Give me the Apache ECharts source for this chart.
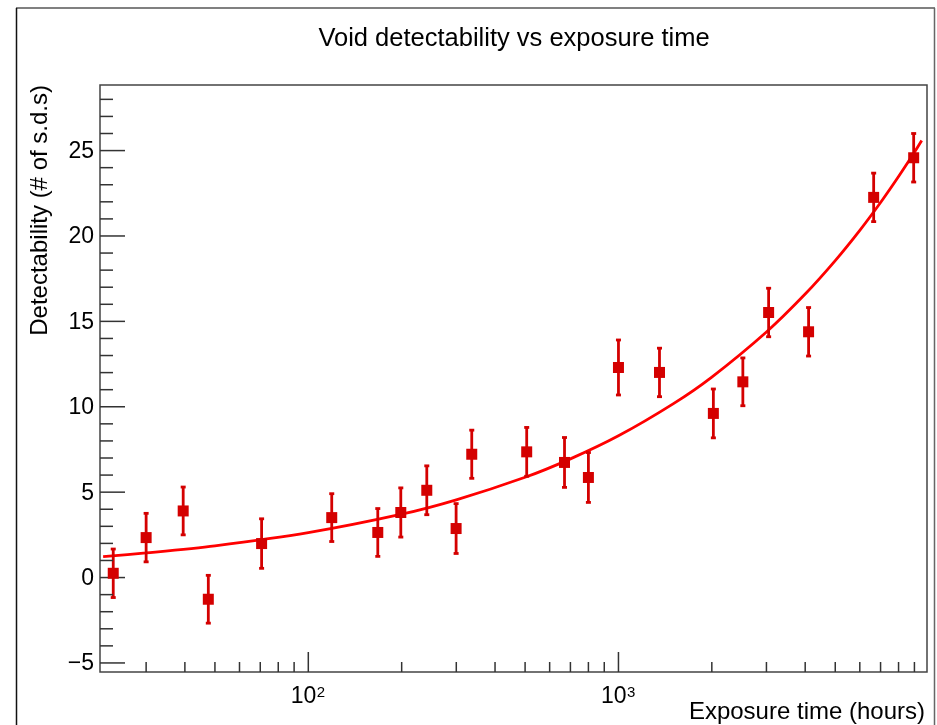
<!DOCTYPE html>
<html><head><meta charset="utf-8">
<script src="https://cdn.jsdelivr.net/npm/echarts@6/dist/echarts.min.js"></script>
<style>html,body{margin:0;padding:0;background:#fff}#c{width:937px;height:725px}</style>
</head><body><div id="c"></div>
<script>
// ---- data ----
const exposureHours = [23.5, 30, 39.5, 47.6, 70.7, 119, 167.5, 198.7, 241, 299.6, 336.5, 506, 670, 800, 1000, 1356, 2023, 2518, 3049, 4102, 6650, 8950];
const detectability = [0.25, 2.34, 3.90, -1.27, 1.99, 3.51, 2.64, 3.81, 5.11, 2.87, 7.22, 7.36, 6.74, 5.86, 12.30, 12.01, 9.61, 11.46, 15.52, 14.39, 22.26, 24.58];
const detectErr = [1.42, 1.42, 1.40, 1.40, 1.45, 1.40, 1.40, 1.44, 1.43, 1.46, 1.41, 1.43, 1.46, 1.46, 1.61, 1.42, 1.43, 1.40, 1.42, 1.42, 1.42, 1.42];
const fitHours = [21.8, 30, 50, 100, 200, 300, 500, 700, 1000, 1500, 2000, 3000, 4000, 5000, 6000, 7000, 8000, 9000, 9500];
const fitValues = [1.22, 1.44, 1.86, 2.63, 3.71, 4.55, 5.87, 6.95, 8.30, 10.17, 11.74, 14.38, 16.60, 18.56, 20.33, 21.96, 23.48, 24.90, 25.59];
const xMajorTicks = [100, 1000];
const xMajorBase = ['10', '10'];
const xMajorExp = ['2', '3'];
const xMinorTicks = [30, 40, 50, 60, 70, 80, 90, 200, 300, 400, 500, 600, 700, 800, 900, 2000, 3000, 4000, 5000, 6000, 7000, 8000, 9000];
const yMajorTicks = [-5, 0, 5, 10, 15, 20, 25];
const yMajorLabels = ['\u22125', '0', '5', '10', '15', '20', '25'];
const yMinorTicks = [-4, -3, -2, -1, 1, 2, 3, 4, 6, 7, 8, 9, 11, 12, 13, 14, 16, 17, 18, 19, 21, 22, 23, 24, 26, 27, 28];
const xRange = [21.3, 9881];
const yRange = [-5.53, 28.84];

const FONT = '"Liberation Sans", Arial, Helvetica, sans-serif';
const markColor = '#d40000';
const tickColor = '#333';

const chart = echarts.init(document.getElementById('c'), null, {renderer: 'canvas'});

const errData = exposureHours.map((x, i) => [x, detectability[i] - detectErr[i], detectability[i] + detectErr[i]]);
const ptData = exposureHours.map((x, i) => [x, detectability[i]]);
const fitData = fitHours.map((x, i) => [x, fitValues[i]]);
const xTickData = xMajorTicks.map((v, i) => [v, 0, 1, i]).concat(xMinorTicks.map(v => [v, 0, 0, -1]));
const yTickData = yMajorTicks.map((v, i) => [100, v, 1, i]).concat(yMinorTicks.map(v => [100, v, 0, -1]));

chart.setOption({
  animation: false,
  backgroundColor: '#fff',
  grid: {left: 100, right: 10, top: 85, bottom: 53, show: true, borderColor: '#444', borderWidth: 1.5, backgroundColor: 'transparent'},
  xAxis: {type: 'log', logBase: 10, min: xRange[0], max: xRange[1],
    axisLine: {show: false}, axisTick: {show: false}, axisLabel: {show: false}, splitLine: {show: false}, minorTick: {show: false}},
  yAxis: {type: 'value', min: yRange[0], max: yRange[1],
    axisLine: {show: false}, axisTick: {show: false}, axisLabel: {show: false}, splitLine: {show: false}},
  graphic: [
    {type: 'line', shape: {x1: 16, y1: 8, x2: 935, y2: 8}, style: {stroke: '#808080', lineWidth: 2}},
    {type: 'line', shape: {x1: 16.5, y1: 8, x2: 16.5, y2: 725}, style: {stroke: '#111', lineWidth: 1.5}},
    {type: 'line', shape: {x1: 934.5, y1: 8, x2: 934.5, y2: 725}, style: {stroke: '#666', lineWidth: 1.5}},
    {type: 'text', x: 514, y: 39, style: {text: 'Void detectability vs exposure time', font: '25.5px ' + FONT, fill: '#000', align: 'center', verticalAlign: 'middle'}},
    {type: 'text', x: 925, y: 712, style: {text: 'Exposure time (hours)', font: '24px ' + FONT, fill: '#000', align: 'right', verticalAlign: 'middle'}},
    {type: 'text', x: 40, y: 85, rotation: Math.PI / 2, style: {text: 'Detectability (# of s.d.s)', font: '24px ' + FONT, fill: '#000', align: 'right', verticalAlign: 'middle'}}
  ],
  series: [
    {
      type: 'custom', name: 'xticks', silent: true, z: 5, data: xTickData, encode: {x: 0, y: 1},
      renderItem: (params, api) => {
        const p = api.coord([api.value(0), api.value(1)]);
        const cs = params.coordSys;
        const yb = cs.y + cs.height;
        const major = api.value(2) === 1;
        const len = major ? 20 : 10;
        const children = [{type: 'line', shape: {x1: p[0], y1: yb, x2: p[0], y2: yb - len}, style: {stroke: tickColor, lineWidth: 1.5}}];
        if (major) {
          const k = api.value(3);
          children.push({type: 'text', x: p[0] + 8, y: yb + 25, style: {
            text: xMajorBase[k], font: '23px ' + FONT, fill: '#000', align: 'right', verticalAlign: 'middle'}});
          children.push({type: 'text', x: p[0] + 8.5, y: yb + 21, style: {
            text: xMajorExp[k], font: '15px ' + FONT, fill: '#000', align: 'left', verticalAlign: 'middle'}});
        }
        return {type: 'group', children};
      }
    },
    {
      type: 'custom', name: 'yticks', silent: true, z: 5, data: yTickData, encode: {x: 0, y: 1},
      renderItem: (params, api) => {
        const p = api.coord([api.value(0), api.value(1)]);
        const cs = params.coordSys;
        const xl = cs.x;
        const major = api.value(2) === 1;
        const len = major ? 25 : 13;
        const children = [{type: 'line', shape: {x1: xl, y1: p[1], x2: xl + len, y2: p[1]}, style: {stroke: tickColor, lineWidth: 1.5}}];
        if (major) {
          children.push({type: 'text', x: xl - 6, y: p[1] + 1, style: {
            text: yMajorLabels[api.value(3)], font: '23px ' + FONT, fill: '#000', align: 'right', verticalAlign: 'middle'}});
        }
        return {type: 'group', children};
      }
    },
    {
      type: 'line', name: 'fit', data: fitData, smooth: 0.3, showSymbol: false, z: 3,
      lineStyle: {color: '#ff0000', width: 2.8}, itemStyle: {color: '#ff0000'}
    },
    {
      type: 'custom', name: 'errors', z: 4, data: errData, encode: {x: 0, y: [1, 2]},
      renderItem: (params, api) => {
        const x = api.value(0);
        const lo = api.coord([x, api.value(1)]);
        const hi = api.coord([x, api.value(2)]);
        const cw = 2.5;
        const style = {stroke: markColor, lineWidth: 2.8};
        return {type: 'group', children: [
          {type: 'line', shape: {x1: lo[0], y1: lo[1], x2: hi[0], y2: hi[1]}, style},
          {type: 'line', shape: {x1: lo[0] - cw, y1: lo[1], x2: lo[0] + cw, y2: lo[1]}, style},
          {type: 'line', shape: {x1: hi[0] - cw, y1: hi[1], x2: hi[0] + cw, y2: hi[1]}, style}
        ]};
      }
    },
    {
      type: 'scatter', name: 'points', data: ptData, symbol: 'rect', symbolSize: 11, z: 6,
      itemStyle: {color: markColor, opacity: 1}
    }
  ]
});
</script>
</body></html>
